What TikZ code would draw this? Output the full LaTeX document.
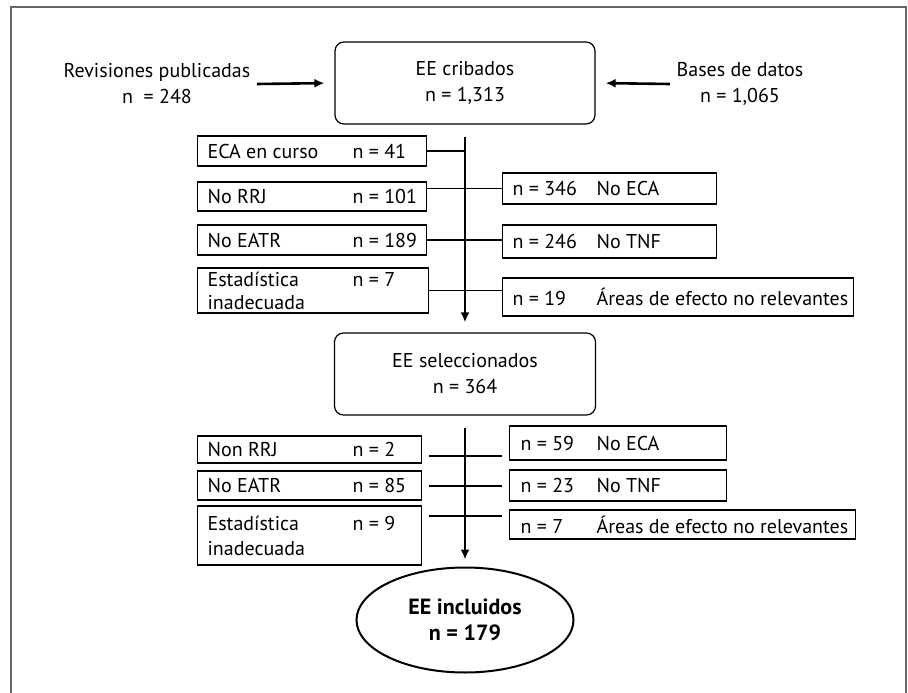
\documentclass[tikz,border=0pt]{standalone}
\usepackage{fontspec}
\setmainfont{PT Sans}
\usetikzlibrary{shapes.geometric,arrows.meta}

\tikzset{
  box/.style={draw, line width=1.2pt, inner xsep=10pt, inner ysep=0pt, anchor=west, align=left},
  rbox/.style={draw, line width=1.2pt, rounded corners=9pt, align=center},
  arr/.style={line width=2.6pt, -{Latex[length=10pt,width=9pt]}},
  link/.style={line width=1.2pt}
}
% one line of a box: fixed total width, fixed first column
\newcommand{\boxline}[4]{\makebox[#1][l]{\makebox[#2][l]{#3}#4}}

\begin{document}
\begin{tikzpicture}[x=1pt,y=-1pt, font=\fontsize{20}{26}\selectfont]
    \useasboundingbox (0,0) rectangle (908,693);
    \draw[black!60, line width=1.6pt] (11,693) -- (11,7) -- (906,7) -- (906,693);

    % sources
    \node[rbox, minimum width=260pt, minimum height=82pt] (cribados) at (465,83) {EE cribados\\n = 1,313};
    \node[align=center] (revis) at (157,84) {Revisiones publicadas\\n \ = 248};
    \node[align=center] (bases) at (740,84) {Bases de datos\\n = 1,065};
    \draw[arr, shorten >=10pt] ([xshift=3pt]revis.east) -- (cribados.west);
    \draw[arr, shorten >=10pt] ([xshift=-3pt]bases.west) -- (cribados.east);

%   first screening
    \node[box, minimum height=30pt] (eca1) at (197,151) {\boxline{209pt}{145pt}{ECA en curso}{n = 41}};
    \node[box, minimum height=29pt] (norrj1) at (197,196.5) {\boxline{209pt}{145pt}{No RRJ}{n = 101}};
    \node[box, minimum height=30pt] (noeatr1) at (197,240) {\boxline{209pt}{145pt}{No EATR}{n = 189}};
    \node[box, minimum height=45pt, font=\fontsize{20}{23}\selectfont] (estad1) at (197,290.5) {\boxline{211pt}{145pt}{Estadística}{n = 7}\\\boxline{211pt}{145pt}{inadecuada}{}};

    \node[box, minimum height=31pt] (noeca1) at (502,188.5) {\boxline{194pt}{84pt}{n = 346}{No ECA}};
    \node[box, minimum height=33pt] (notnf1) at (502,241.5) {\boxline{194pt}{84pt}{n = 246}{No TNF}};
    \node[box, minimum height=38pt] (areas1) at (502,297) {\boxline{331pt}{84pt}{n = 19}{Áreas de efecto no relevantes}};

    \node[rbox, minimum width=261pt, minimum height=82pt] (selec) at (465,374) {EE seleccionados\\n = 364};

    \coordinate (a1) at (465,137);
    \draw[arr, shorten >=10pt] (a1) -- (selec.north);
    \draw[link] (eca1.east) -- (eca1.east -| a1);
    \draw[link] (norrj1.east |- noeca1.west) -- (noeca1.west);
    \draw[link] (noeatr1.east) -- (noeatr1.east -| notnf1.west);
    \draw[link] (estad1.east) -- (estad1.east -| areas1.west);

%   second screening
    \node[box, minimum height=27pt] (norrj2) at (197,449.5) {\boxline{204pt}{145pt}{Non RRJ}{n = 2}};
    \node[box, minimum height=29pt] (noeatr2) at (197,485.5) {\boxline{204pt}{145pt}{No EATR}{n = 85}};
    \node[box, minimum height=59pt, font=\fontsize{20}{25}\selectfont] (estad2) at (197,535.5) {\boxline{204pt}{145pt}{Estadística}{n = 9}\\\boxline{204pt}{145pt}{inadecuada}{}};

    \node[box, inner xsep=11pt, minimum height=34pt] (noeca2) at (509,443) {\boxline{195pt}{76pt}{n = 59}{No ECA}};
    \node[box, inner xsep=11pt, minimum height=31pt] (notnf2) at (509,485.5) {\boxline{195pt}{76pt}{n = 23}{No TNF}};
    \node[box, inner xsep=11pt, minimum height=29pt] (areas2) at (509,524.5) {\boxline{324pt}{76pt}{n = 7}{Áreas de efecto no relevantes}};

    \node[ellipse, draw, line width=2pt, minimum width=217pt, minimum height=105pt, align=center, font=\fontsize{22}{26}\selectfont\bfseries] (incl) at (465,620) {EE incluidos\\n = 179};

    \coordinate (a2) at (465,428);
    \draw[arr, shorten >=7pt] (a2) -- (incl.north);
    \draw[link] ([xshift=7pt]norrj2.east |- 0,456) -- ([xshift=-7pt]noeca2.west |- 0,456);
    \draw[link] ([xshift=7pt]noeatr2.east |- 0,486) -- ([xshift=-7pt]notnf2.west |- 0,486);
    \draw[link] ([xshift=7pt]estad2.east |- 0,516) -- ([xshift=-7pt]areas2.west |- 0,516);

\end{tikzpicture}
\end{document}
